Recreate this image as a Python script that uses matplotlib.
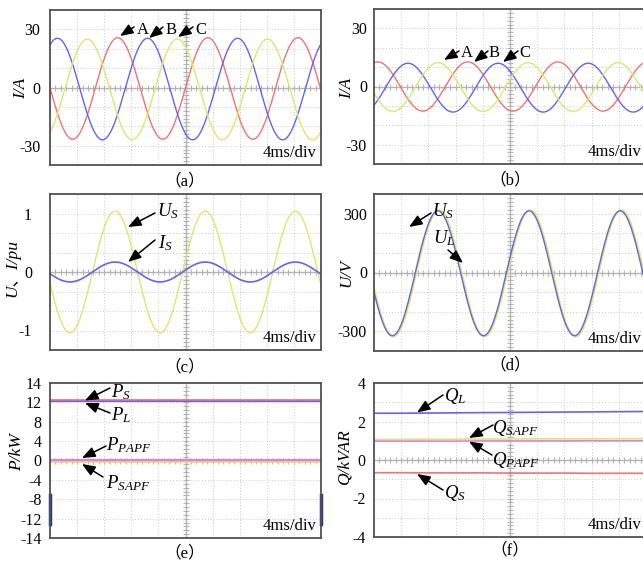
"""Oscilloscope-style waveform figure, six panels (a)-(f)."""

import matplotlib

matplotlib.use("Agg")
import matplotlib.pyplot as plt
import numpy as np

W, H = 643, 564

# ---- waveform readings (ms, amplitude, offset) -------------------------
# a sine trace is described by its peak amplitude, period, time of a peak
# and dc offset, all read off the screen grid (4 ms/div, 10 div wide)
A_PERIOD = 13.3
A_AMP = [26.2, 26.2, 26.0]          # red, blue, yellow
A_PEAK = [10.0, 14.4, 18.8]
A_OFF = [-0.5, -0.8, -1.0]

B_PERIOD = 13.25
B_AMP = [12.7, 12.6, 12.6]          # red, blue, yellow
B_PEAK = [13.8, 5.0, 9.4]
B_OFF = [0.0, -0.6, -0.3]

C_PERIOD = 13.3
C_AMP = [1.04, 0.17]                # U_S (yellow), I_S (blue)
C_PEAK = [9.6, 9.6]

D_PERIOD = 13.4
D_AMP = [322, 318]                  # U_S (yellow), U_L (blue)
D_PEAK = [9.55, 9.4]
D_OFF = [-4, -4]

# ---- flat power traces, one reading per division -----------------------
X_DIV = [0, 4, 8, 12, 16, 20, 24, 28, 32, 36, 40]
P_S = [12.45, 12.45, 12.45, 12.45, 12.45, 12.45, 12.45, 12.45, 12.45, 12.45, 12.45]
P_L = [12.35, 12.35, 12.35, 12.35, 12.35, 12.35, 12.35, 12.35, 12.35, 12.35, 12.35]
P_PAPF = [0.2, 0.2, 0.2, 0.2, 0.2, 0.2, 0.2, 0.2, 0.2, 0.2, 0.2]
P_SAPF = [-0.25, -0.25, -0.25, -0.25, -0.25, -0.25, -0.25, -0.25, -0.25, -0.25, -0.25]
P_EDGE = [-7.2, -13.2]

Q_L = [2.43, 2.43, 2.44, 2.45, 2.46, 2.47, 2.48, 2.49, 2.50, 2.51, 2.52]
Q_SAPF = [1.07, 1.07, 1.08, 1.08, 1.09, 1.09, 1.10, 1.10, 1.10, 1.11, 1.11]
Q_PAPF = [0.98, 0.98, 0.98, 0.98, 0.99, 0.99, 0.99, 0.99, 1.00, 1.00, 1.00]
Q_S = [-0.66, -0.66, -0.67, -0.67, -0.67, -0.68, -0.68, -0.68, -0.69, -0.69, -0.69]

RED = "#f07272"
BLUE = "#6464f0"
YEL = "#d6ea6e"
MAG = "#e87ae8"
SERIF = ["Liberation Serif", "Noto Sans CJK SC"]

plt.rcParams["font.family"] = SERIF
plt.rcParams["axes.unicode_minus"] = False
plt.rcParams["mathtext.fontset"] = "custom"
plt.rcParams["mathtext.rm"] = "Liberation Serif"
plt.rcParams["mathtext.it"] = "Liberation Serif:italic"

fig = plt.figure(figsize=(W / 100, H / 100), dpi=100)
t = np.linspace(0, 40, 1201)


def panel(box):
    l, tp, r, b = box
    return fig.add_axes([l / W, 1 - b / H, (r - l) / W, (b - tp) / H])


def scope(ax, ylim, ticks, labels, pad):
    ax.set_xlim(0, 40)
    ax.set_ylim(-ylim, ylim)
    grid = dict(color="#c8c8c8", lw=0.7, ls=(0, (1, 2)), zorder=0)
    for i in range(1, 10):
        if i != 5:
            ax.axvline(4 * i, **grid)
    for j in range(1, 8):
        if j != 4:
            ax.axhline(-ylim + ylim / 4 * j, **grid)
    ax.axvline(20, color="#b4b4b4", lw=1.0, zorder=0)
    ax.axhline(0, color="#b4b4b4", lw=1.0, zorder=0)
    ax.plot(np.arange(0.8, 40, 0.8), np.zeros(49), ls="none", marker="|",
            ms=4, color="#b4b4b4", mew=0.8, zorder=0)
    ax.plot(np.full(39, 20.0), np.linspace(-ylim, ylim, 41)[1:-1], ls="none",
            marker="_", ms=4, color="#b4b4b4", mew=0.8, zorder=0)
    for s in ax.spines.values():
        s.set_color("#505050")
        s.set_linewidth(1.3)
    ax.set_xticks([])
    ax.set_yticks(ticks, labels)
    ax.tick_params(axis="y", length=0, pad=pad, labelsize=11.5)
    ax.text(0.985, 0.025, "4ms/div", transform=ax.transAxes, ha="right",
            va="bottom", fontsize=12)


def arrow(tail, tip):
    fig.add_artist(matplotlib.patches.FancyArrowPatch(
        (tail[0] / W, 1 - tail[1] / H), (tip[0] / W, 1 - tip[1] / H),
        transform=fig.transFigure, arrowstyle="-|>,head_length=0.75,head_width=0.3",
        mutation_scale=10.5, color="black", lw=1.1, shrinkA=0, shrinkB=0))


def label(x, y, s, size=13.5):
    fig.text(x / W, 1 - y / H, s, ha="left", va="baseline", fontsize=size)


def ytitle(x, y, s):
    fig.text(x / W, 1 - y / H, s, rotation=90, ha="center", va="center",
             fontsize=12.5, fontstyle="italic")


def caption(x, y, s):
    fig.text(x / W, 1 - y / H, s, ha="center", va="center", fontsize=12)


def wave(amp, peak, period, off=0.0):
    return off + amp * np.cos(2 * np.pi * (t - peak) / period)


# (a) load currents
ax = panel((50, 10, 321, 165))
scope(ax, 40, [-30, 0, 30], ["-30", "0", "30"], 7)
for amp, pk, off, c in zip(A_AMP, A_PEAK, A_OFF, [RED, BLUE, YEL]):
    ax.plot(t, wave(amp, pk, A_PERIOD, off), color=c, lw=1.0)
ytitle(21, 88, "I/A")
caption(185, 181, "（a）")
for s, x, tail, tip in [("A", 137, (134, 27), (120, 36)),
                        ("B", 166, (163, 27), (149, 38)),
                        ("C", 195, (193, 27), (178, 37))]:
    label(x, 34, s, 12)
    arrow(tail, tip)

# (b) source currents
ax = panel((374, 9, 646, 164))
scope(ax, 40, [-30, 0, 30], ["-30", "0", "30"], 5)
for amp, pk, off, c in zip(B_AMP, B_PEAK, B_OFF, [RED, BLUE, YEL]):
    ax.plot(t, wave(amp, pk, B_PERIOD, off), color=c, lw=1.0)
ytitle(347, 88, "I/A")
caption(510, 180, "（b）")
for s, x, tail, tip in [("A", 461, (459, 51), (444, 60)),
                        ("B", 489, (488, 51), (474, 62)),
                        ("C", 519, (518, 51), (503, 62))]:
    label(x, 57, s, 12)
    arrow(tail, tip)

# (c) source voltage and current, per unit
ax = panel((50, 194, 321, 350))
scope(ax, 4 / 3, [-1, 0, 1], ["-1", "0", "1"], 13)
ax.plot(t, wave(C_AMP[0], C_PEAK[0], C_PERIOD), color=YEL, lw=1.0)
ax.plot(t, wave(C_AMP[1], C_PEAK[1], C_PERIOD), color=BLUE, lw=1.2)
ytitle(12, 268, "U、I/pu")
caption(185, 367, "（c）")
label(157, 216, r"$U_S$")
arrow((155, 213), (128, 227))
label(158, 248, r"$I_S$")
arrow((155, 240), (128, 262))

# (d) source and load voltage
ax = panel((374, 194, 646, 351))
scope(ax, 400, [-300, 0, 300], ["-300", "0", "300"], 5)
ax.plot(t, wave(D_AMP[0], D_PEAK[0], D_PERIOD, D_OFF[0]), color=YEL, lw=1.4)
ax.plot(t, wave(D_AMP[1], D_PEAK[1], D_PERIOD, D_OFF[1]), color=BLUE, lw=1.0)
ytitle(346, 273, "U/V")
caption(510, 365, "（d）")
label(432, 216, r"$U_S$")
arrow((431, 213), (409, 227))
label(433, 243, r"$U_L$")
arrow((448, 250), (463, 263))

# (e) active power
ax = panel((50, 383, 321, 538))
scope(ax, 16, [-16, -12, -8, -4, 0, 4, 8, 12, 16],
      ["-14", "-12", "-8", "-4", "0", "4", "8", "12", "14"], 6)
ax.plot(X_DIV, P_L, color=BLUE, lw=1.6)
ax.plot(X_DIV, P_S, color=RED, lw=1.2)
ax.plot(X_DIV, P_SAPF, color=YEL, lw=1.2)
ax.plot(X_DIV, P_PAPF, color=MAG, lw=1.6)
for x in (0, 40):
    ax.plot([x, x], P_EDGE, color="#2a3a8a", lw=2.5, clip_on=False)
ytitle(17, 452, "P/kW")
caption(185, 553, "（e）")
label(111, 397, r"$P_S$")
arrow((110, 388), (85, 400.5))
label(111, 420, r"$P_L$")
arrow((110, 413), (85, 403))
label(106, 450, r"$P_{PAPF}$")
arrow((106, 446), (82, 458))
label(106, 488, r"$P_{SAPF}$")
arrow((103, 477), (82, 464))

# (f) reactive power
ax = panel((374, 383, 646, 537))
scope(ax, 4, [-4, -2, 0, 2, 4], ["-4", "-2", "0", "2", "4"], 6)
ax.plot(X_DIV, Q_L, color=BLUE, lw=1.2)
ax.plot(X_DIV, Q_SAPF, color=YEL, lw=1.2)
ax.plot(X_DIV, Q_PAPF, color=MAG, lw=1.2)
ax.plot(X_DIV, Q_S, color=RED, lw=1.2)
ytitle(345, 457, "Q/kVAR")
caption(510, 550, "（f）")
label(444, 401, r"$Q_L$")
arrow((443, 395), (417, 412.5))
label(492, 433, r"$Q_{SAPF}$")
arrow((493, 425), (469, 438))
label(492, 465, r"$Q_{PAPF}$")
arrow((492, 455), (469, 441.5))
label(444, 498, r"$Q_S$")
arrow((443, 490), (417, 474))

fig.savefig("out.png", dpi=100)
